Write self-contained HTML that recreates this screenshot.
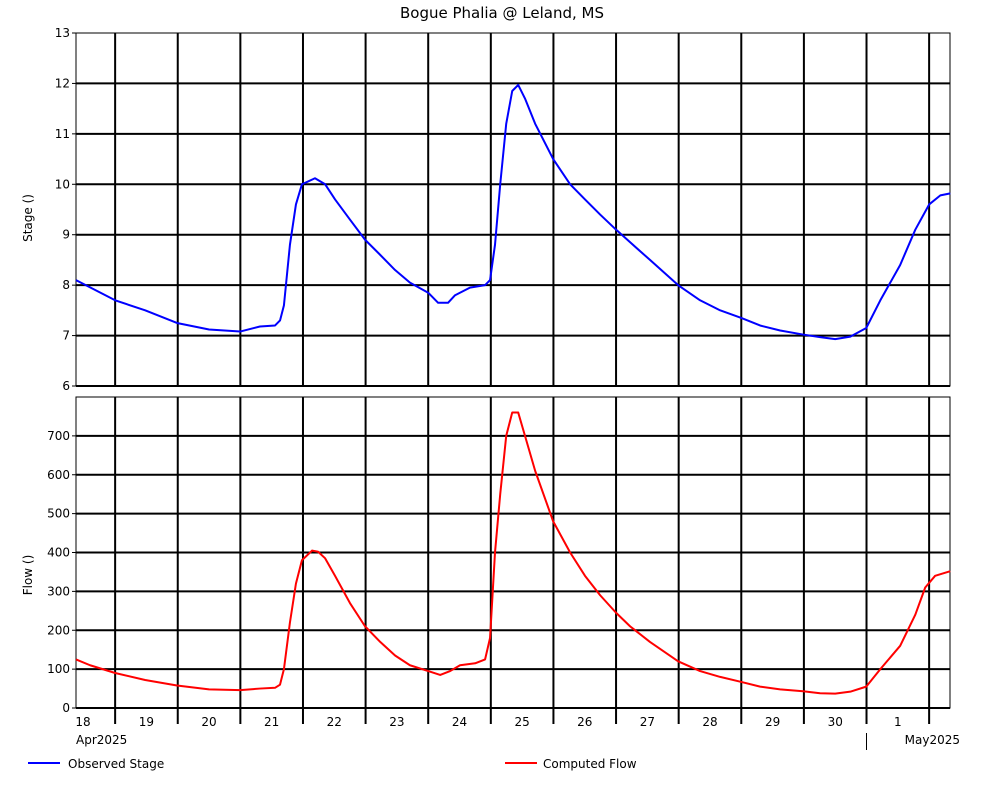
<!DOCTYPE html>
<html><head><meta charset="utf-8"><style>
body{margin:0;background:#fff}
svg text{font-family:"DejaVu Sans","Liberation Sans",sans-serif;font-size:12px;fill:#000}
</style></head><body>
<svg id="c" width="1001" height="780" xmlns="http://www.w3.org/2000/svg">
<text x="502" y="18" text-anchor="middle" style="font-size:15px">Bogue Phalia @ Leland, MS</text>
<g id="g"></g>
<text transform="translate(32,218) rotate(-90)" text-anchor="middle">Stage ()</text>
<text transform="translate(32,575) rotate(-90)" text-anchor="middle">Flow ()</text>
<line x1="28" y1="763" x2="60" y2="763" stroke="#0000ff" stroke-width="2"/>
<text x="68" y="768">Observed Stage</text>
<line x1="505" y1="763" x2="537" y2="763" stroke="#ff0000" stroke-width="2"/>
<text x="543" y="768">Computed Flow</text>
</svg>
<script>
const dayLabels=["18","19","20","21","22","23","24","25","26","27","28","29","30","1"];
const stageTicks=[6,7,8,9,10,11,12,13];
const flowTicks=[0,100,200,300,400,500,600,700];
const stageHours=[0,15,26.5,38.7,51,62.9,70.5,76.3,78.2,79.7,82,84.3,86.6,91.6,95.5,99.3,105,110.8,116.6,122.3,128,135,138.8,142.6,145.3,151,156.8,158.7,160.6,162.6,164.9,167.2,169.5,172.1,176,182.9,189.4,195.1,200.9,207,212.4,220,230.8,239.2,246.9,255,262.2,269.9,278.7,285.2,291,296.8,302.9,308.3,315.9,321.7,327,331.3,335.1];
const stageVals=[8.1,7.7,7.5,7.25,7.12,7.08,7.18,7.2,7.3,7.6,8.8,9.6,10.0,10.12,10.0,9.7,9.3,8.9,8.6,8.3,8.05,7.85,7.65,7.65,7.8,7.95,8.0,8.1,8.8,10.0,11.2,11.85,11.97,11.7,11.2,10.5,10.0,9.7,9.4,9.1,8.85,8.5,8.0,7.7,7.5,7.35,7.2,7.1,7.02,6.97,6.93,6.98,7.15,7.7,8.4,9.1,9.6,9.78,9.82];
const flowHours=[0,5.4,15,26.5,38.7,51,62.9,70.5,76.3,78.2,79.7,82,84.3,86.6,90.5,92.8,95.5,99.3,105,110.8,116.6,122.3,128,135,139.6,143.4,147.2,153,156.8,158.7,160.6,162.6,164.9,167.2,169.5,172.1,176,182.9,189.4,195.1,200.9,207,212.4,220,230.8,239.2,246.9,255,262.2,269.9,278.7,285.2,291,296.8,302.9,308.3,315.9,321.7,325.5,329.3,335.1];
const flowVals=[125,110,90,72,58,48,46,50,52,60,100,220,320,380,405,402,385,340,270,210,170,135,110,95,85,95,110,115,125,180,400,550,700,760,760,700,610,480,400,340,290,245,210,170,120,95,80,67,55,48,43,38,37,42,55,100,160,240,310,340,352];
const X0=76,X1=950,H=335;
const xs=h=>X0+h*(X1-X0)/H;
const ys=v=>386-(v-6)*(386-33)/7;
const yf=v=>708-v*(708-397)/800;
const NS="http://www.w3.org/2000/svg",g=document.getElementById('g');
function mk(t,a){const e=document.createElementNS(NS,t);for(const k in a)e.setAttribute(k,a[k]);g.appendChild(e);return e;}
// frames
let e=mk('rect',{x:X0,y:33,width:X1-X0,height:353,fill:'none',stroke:'#000','stroke-width':1});


e=mk('rect',{x:X0,y:397,width:X1-X0,height:311,fill:'none',stroke:'#000','stroke-width':1});


stageTicks.forEach(v=>{const y=ys(v);
 if(v>6&&v<13){e=mk('line',{x1:X0,x2:X1,y1:y,y2:y,stroke:'#000','stroke-width':2});}
 mk('line',{x1:X0-4,x2:X0,y1:y,y2:y,stroke:'#000'});
 e=mk('text',{x:X0-6,y:y+4,'text-anchor':'end'});e.textContent=v;
 
 });
flowTicks.forEach(v=>{const y=yf(v);
 if(v>0){e=mk('line',{x1:X0,x2:X1,y1:y,y2:y,stroke:'#000','stroke-width':2});}
 mk('line',{x1:X0-4,x2:X0,y1:y,y2:y,stroke:'#000'});
 e=mk('text',{x:X0-6,y:y+4,'text-anchor':'end'});e.textContent=v;
 
 });
mk('line',{x1:X0,x2:X1,y1:708,y2:708,stroke:'#000','stroke-width':2});
mk('line',{x1:X0,x2:X1,y1:386,y2:386,stroke:'#000','stroke-width':2});
dayLabels.forEach((d,i)=>{const x=xs(15+24*i);
 e=mk('line',{x1:x,x2:x,y1:33,y2:386,stroke:'#000','stroke-width':2});
 mk('line',{x1:x,x2:x,y1:397,y2:724,stroke:'#000','stroke-width':2});
 const lx=Math.max(xs(3+24*i)+(i==0?0:0),X0+6);
 e=mk('text',{x:i==0?83:xs(27+24*(i-1)) ,y:726,'text-anchor':'middle'});e.textContent=d;
 
 });
e=mk('text',{x:76,y:744});e.textContent='Apr2025';
e=mk('text',{x:960,y:744,'text-anchor':'end'});e.textContent='May2025';
mk('line',{x1:xs(303),x2:xs(303),y1:733,y2:750,stroke:'#000'});
e=mk('polyline',{points:stageHours.map((h,i)=>xs(h)+','+ys(stageVals[i])).join(' '),fill:'none',stroke:'#0000ff','stroke-width':2,'stroke-linejoin':'round'});


e=mk('polyline',{points:flowHours.map((h,i)=>xs(h)+','+yf(flowVals[i])).join(' '),fill:'none',stroke:'#ff0000','stroke-width':2,'stroke-linejoin':'round'});


</script>
</body></html>
